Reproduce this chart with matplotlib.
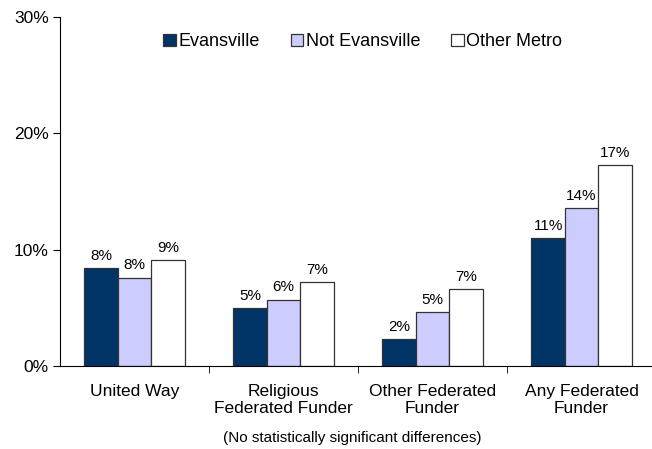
import matplotlib.pyplot as plt
import numpy as np

plt.rcParams['font.family'] = ['Liberation Sans', 'DejaVu Sans']

categories = ['United Way', 'Religious\nFederated Funder', 'Other Federated\nFunder', 'Any Federated\nFunder']
series_names = ['Evansville', 'Not Evansville', 'Other Metro']
evansville = [8.4, 5.0, 2.3, 11.0]
not_evansville = [7.6, 5.7, 4.6, 13.6]
other_metro = [9.1, 7.2, 6.6, 17.3]
colors = ['#003366', '#CCCCFF', '#FFFFFF']

fig = plt.figure(figsize=(6.52, 4.49), dpi=100)
ax = fig.add_axes([60 / 652, 1 - 366 / 449, 596 / 652, 349 / 449])

x = np.arange(len(categories))
w = 0.224
for i, (vals, name) in enumerate(zip([evansville, not_evansville, other_metro], series_names)):
    pos = x + (i - 1) * w
    ax.bar(pos, vals, w, color=colors[i], edgecolor='#333333', linewidth=0.9, label=name)
    for px, v in zip(pos, vals):
        ax.text(px, v + 0.45, '{:.0f}%'.format(v), ha='center', va='bottom', fontsize=11)

ax.set_xlim(-0.5, 3.5)
ax.set_ylim(0, 30)
ax.set_yticks([0, 10, 20, 30])
ax.set_yticklabels(['0%', '10%', '20%', '30%'], fontsize=12.5)
ax.set_xticks(x)
ax.set_xticklabels(categories, fontsize=12.5, linespacing=1.2)
ax.tick_params(axis='x', length=0, pad=13)
ax.set_xticks([0.5, 1.5, 2.5], minor=True)
ax.tick_params(axis='x', which='minor', length=5, direction='out')
ax.tick_params(axis='y', length=5, direction='out', pad=3)
for s in ['top', 'right']:
    ax.spines[s].set_visible(False)

ax.legend(loc='upper center', bbox_to_anchor=(0.508, 1.0), ncol=3, frameon=False,
          fontsize=13, handlelength=0.7, handleheight=0.7, handletextpad=0.15, columnspacing=1.7)

fig.text(352 / 652, 1 - 438 / 449, '(No statistically significant differences)',
         ha='center', va='center', fontsize=11)

fig.savefig('out.png', dpi=100)
